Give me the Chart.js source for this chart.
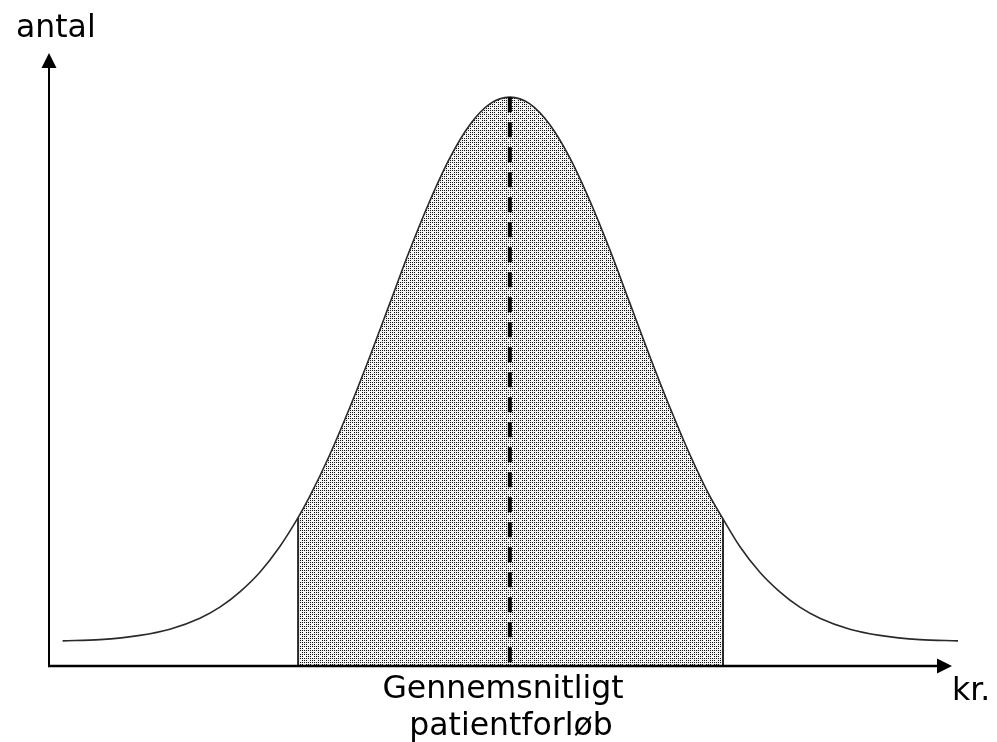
<!DOCTYPE html>
<html>
<head>
<meta charset="utf-8">
<script src="https://cdn.jsdelivr.net/npm/chart.js@4.4.1/dist/chart.umd.min.js"></script>
<style>
  html, body { margin: 0; padding: 0; background: #ffffff; }
  #wrap { width: 997px; height: 742px; }
</style>
</head>
<body>
<div id="wrap"><canvas id="c" width="997" height="742"></canvas></div>
<script>
// ---- data (arbitrary units: kr. 0-100, antal 0-100) ----
const curveKr = [1.5, 5.6, 10.0, 13.3, 16.6, 18.8, 21.0, 23.2, 25.4, 27.4, 28.7, 30.9, 33.1, 35.3, 37.5, 39.7, 41.9, 44.1, 46.3, 48.5, 50.7, 52.9, 55.1, 57.3, 59.5, 61.7, 63.9, 66.1, 68.3, 70.5, 72.7, 74.15, 76.0, 78.2, 80.4, 82.6, 84.8, 88.1, 91.4, 95.8, 100];
const curveAntal = [4.1, 4.3, 5.0, 6.0, 7.8, 9.6, 12.1, 15.3, 19.5, 24.2, 27.7, 34.5, 42.2, 50.5, 59.2, 67.9, 75.9, 82.9, 88.3, 91.7, 92.8, 91.7, 88.3, 82.9, 75.9, 67.9, 59.2, 50.5, 42.2, 34.5, 27.7, 24.0, 19.5, 15.3, 12.1, 9.6, 7.8, 6.0, 5.0, 4.3, 4.1];
const shadeFromKr = 27.4;
const shadeToKr = 74.15;
const shadeEdgeAntal = [24.2, 24.0];
const meanKr = 50.7;
const meanAntal = 92.8;
const yLabel = "antal";
const xLabel = "kr.";
const meanLabel = ["Gennemsnitligt", "patientforløb"];

// ---- build datasets ----
const curvePts = curveKr.map((x, i) => ({ x: x, y: curveAntal[i] }));
const shadePts = [{ x: shadeFromKr, y: shadeEdgeAntal[0] }]
  .concat(curvePts.filter(p => p.x > shadeFromKr && p.x < shadeToKr))
  .concat([{ x: shadeToKr, y: shadeEdgeAntal[1] }]);

function makePattern() {
  const pc = document.createElement('canvas');
  pc.width = 8; pc.height = 8;
  const g = pc.getContext('2d');
  g.fillStyle = '#f4f4f4';
  g.fillRect(0, 0, 8, 8);
  g.fillStyle = '#111111';
  for (let y = 0; y < 8; y += 2) {
    for (let x = 0; x < 8; x += 2) {
      if ((x === 0 && y === 0) || (x === 4 && y === 4)) continue;
      g.fillRect(x, y, 1, 1);
    }
  }
  return document.getElementById('c').getContext('2d').createPattern(pc, 'repeat');
}

const axesAndText = {
  id: 'axesAndText',
  afterDatasetsDraw(chart) {
    const ctx = chart.ctx;
    const a = chart.chartArea;
    const x0 = a.left, y0 = a.bottom;
    ctx.save();
    ctx.strokeStyle = '#000';
    ctx.fillStyle = '#000';
    ctx.lineWidth = 2;
    // y axis
    ctx.beginPath();
    ctx.moveTo(x0, y0 + 1);
    ctx.lineTo(x0, a.top + 14);
    ctx.stroke();
    ctx.beginPath();
    ctx.moveTo(x0, a.top);
    ctx.lineTo(x0 - 7.5, a.top + 15);
    ctx.lineTo(x0 + 7.5, a.top + 15);
    ctx.closePath();
    ctx.fill();
    // x axis
    const tip = 952;
    ctx.lineWidth = 2.5;
    ctx.beginPath();
    ctx.moveTo(x0 - 1, y0);
    ctx.lineTo(tip - 14, y0);
    ctx.stroke();
    ctx.beginPath();
    ctx.moveTo(tip, y0);
    ctx.lineTo(tip - 15, y0 - 7.5);
    ctx.lineTo(tip - 15, y0 + 7.5);
    ctx.closePath();
    ctx.fill();
    // texts
    ctx.font = '31.5px "DejaVu Sans"';
    ctx.textBaseline = 'alphabetic';
    ctx.textAlign = 'left';
    ctx.fillText(yLabel, 16, 37);
    ctx.fillText(xLabel, 952, 700);
    ctx.textAlign = 'center';
    ctx.fillText(meanLabel[0], 503, 698);
    ctx.fillText(meanLabel[1], 511, 735);
    ctx.restore();
  }
};

new Chart(document.getElementById('c'), {
  type: 'line',
  data: {
    datasets: [
      {
        data: [{ x: meanKr, y: meanAntal }, { x: meanKr, y: 0 }],
        borderColor: '#000', borderWidth: 4, borderDash: [15, 10],
        borderCapStyle: 'butt', pointRadius: 0, fill: false, order: 0
      },
      {
        data: curvePts,
        borderColor: '#2a2a2a', borderWidth: 1.6, pointRadius: 0,
        cubicInterpolationMode: 'monotone', fill: false, order: 1
      },
      {
        data: [{ x: shadeFromKr, y: 0 }, { x: shadeFromKr, y: shadeEdgeAntal[0] }],
        borderColor: '#2a2a2a', borderWidth: 2, pointRadius: 0, fill: false, order: 2
      },
      {
        data: [{ x: shadeToKr, y: 0 }, { x: shadeToKr, y: shadeEdgeAntal[1] }],
        borderColor: '#2a2a2a', borderWidth: 2, pointRadius: 0, fill: false, order: 2
      },
      {
        data: shadePts,
        borderWidth: 0, borderColor: 'rgba(0,0,0,0)', pointRadius: 0,
        cubicInterpolationMode: 'monotone',
        backgroundColor: makePattern(), fill: 'origin', order: 3
      }
    ]
  },
  options: {
    responsive: false,
    devicePixelRatio: 1,
    animation: false,
    events: [],
    layout: { padding: { left: 49, right: 39, top: 53, bottom: 76 } },
    scales: {
      x: { type: 'linear', min: 0, max: 100, display: false },
      y: { type: 'linear', min: 0, max: 100, display: false }
    },
    plugins: { legend: { display: false }, tooltip: { enabled: false } }
  },
  plugins: [axesAndText]
});
</script>
</body>
</html>
